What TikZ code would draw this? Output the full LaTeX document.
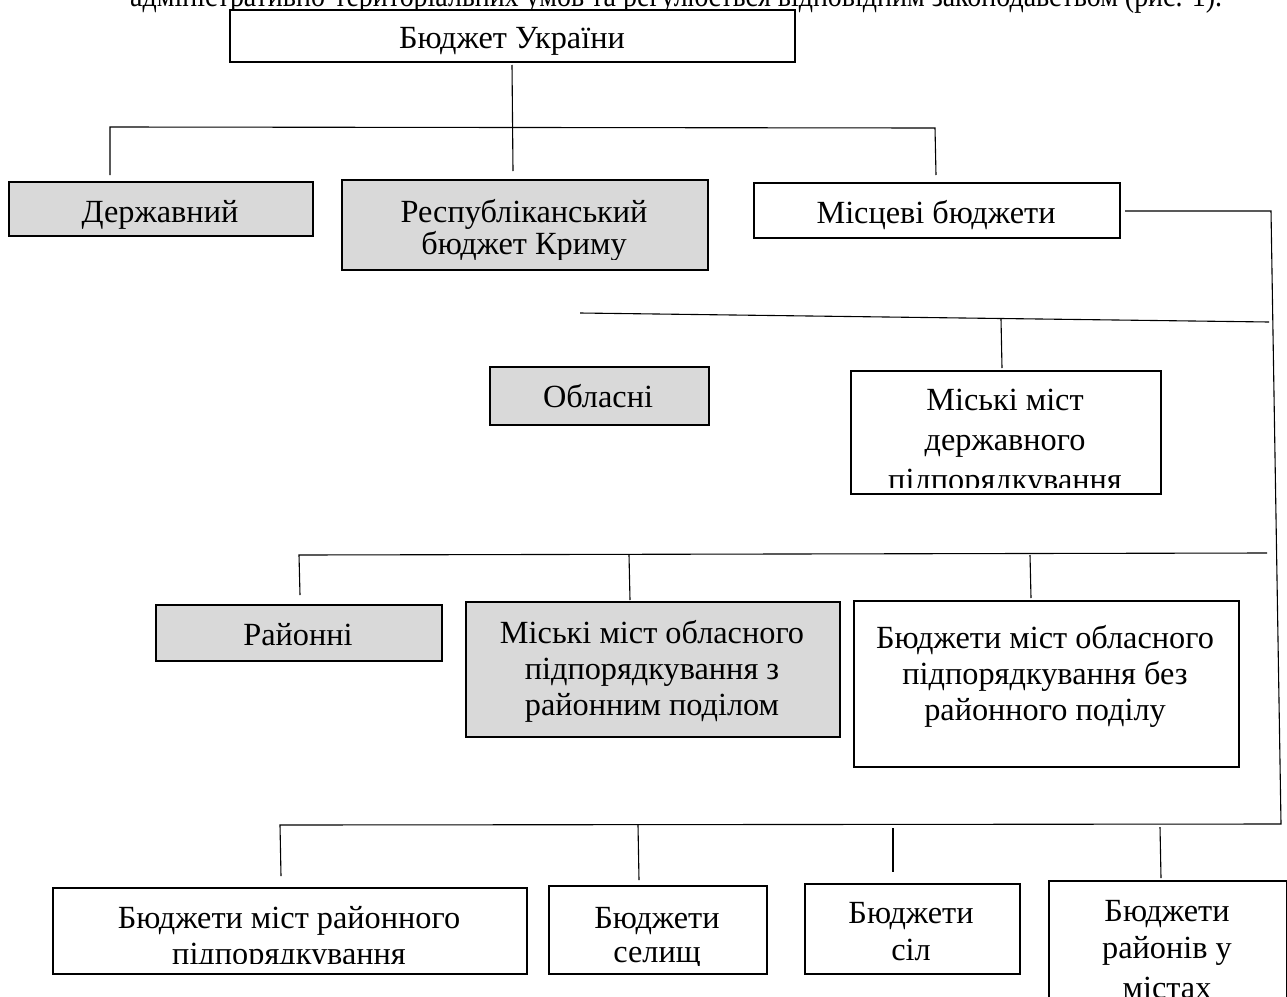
\documentclass[tikz,border=0pt]{standalone}
\usepackage{fontspec}
\usepackage{graphicx}
\setmainfont{Liberation Serif}
\definecolor{boxgray}{HTML}{D9D9D9}
\newcommand\fsz[1]{\fontsize{32.3}{#1}\selectfont}
\newcommand\lines[1]{\begin{tabular}[t]{@{}c@{}}#1\end{tabular}}
\tikzset{
  wbox/.style={draw=black, line width=2.2pt, fill=white, inner sep=0pt, anchor=north west},
  gbox/.style={wbox, fill=boxgray},
  txt/.style={inner sep=0pt, anchor=base, font=\fsz{36}},
  conn/.style={draw=black, line width=1.1pt}
}
\begin{document}
\begin{tikzpicture}[x=1pt,y=-1pt]
\useasboundingbox (0,0) rectangle (1287,996);
\fill[white] (0,0) rectangle (1287,996);
% intro text (clipped by page top)
\node[inner sep=0pt, anchor=base west, font=\fsz{36}] (intro) at (130,6)
  {\resizebox{1092pt}{\height}{адміністративно-територіальних умов та регулюється відповідним законодавством (рис. 1).}};
% boxes
\node[wbox, minimum width=565pt, minimum height=52pt] (top) at (229,9) {};
\node[txt] (topt) at (512,48) {Бюджет України};
\node[gbox, minimum width=304pt, minimum height=54pt] (derzh) at (8,181) {};
\node[txt] (derzht) at (160,222) {Державний};
\node[gbox, minimum width=366pt, minimum height=90pt] (resp) at (341,179) {};
\begin{scope}
\clip (resp.north west) rectangle ([yshift=12pt]resp.south east);
\node[txt, font=\fsz{32}] (respt) at (524,222) {\lines{Республіканський\\бюджет Криму}};
\end{scope}
\node[wbox, minimum width=366pt, minimum height=55pt] (misc) at (753,182) {};
\node[txt] (misct) at (936,223) {Місцеві бюджети};
\node[gbox, minimum width=219pt, minimum height=58pt] (obl) at (489,366) {};
\node[txt] (oblt) at (598,407) {Обласні};
\node[wbox, minimum width=310pt, minimum height=123pt] (mdp) at (850,370) {};
\begin{scope}
\clip (mdp.north west) rectangle ([yshift=8pt]mdp.south east);
\node[txt, font=\fsz{40}] (mdpt) at (1005,410) {\lines{Міські міст\\державного\\підпорядкування}};
\end{scope}
\node[gbox, minimum width=286pt, minimum height=56pt] (rai) at (155,604) {};
\node[txt] (rait) at (298,645) {Районні};
\node[gbox, minimum width=374pt, minimum height=135pt] (mop) at (465,601) {};
\node[txt, font=\fsz{36}] (mopt) at (652,643) {\lines{Міські міст обласного\\підпорядкування з\\районним поділом}};
\node[wbox, minimum width=385pt, minimum height=166pt] (bmo) at (853,600) {};
\node[txt, font=\fsz{36}] (bmot) at (1045,648) {\lines{Бюджети міст обласного\\підпорядкування без\\районного поділу}};
\node[wbox, minimum width=474pt, minimum height=86pt] (bmr) at (52,887) {};
\begin{scope}
\clip (bmr.north west) rectangle ([yshift=12pt]bmr.south east);
\node[txt, font=\fsz{36}] (bmrt) at (289,928) {\lines{Бюджети міст районного\\підпорядкування}};
\end{scope}
\node[wbox, minimum width=218pt, minimum height=88pt] (sel) at (548,885) {};
\begin{scope}
\clip (sel.north west) rectangle ([yshift=10pt]sel.south east);
\node[txt, font=\fsz{34}] (selt) at (657,928) {\lines{Бюджети\\селищ}};
\end{scope}
\node[wbox, minimum width=215pt, minimum height=90pt] (sil) at (804,883) {};
\node[txt, font=\fsz{37}] (silt) at (911,923) {\lines{Бюджети\\сіл}};
\node[wbox, minimum width=238pt, minimum height=130pt] (rvm) at (1048,880) {};
\node[txt, font=\fsz{37}] (rvmt) at (1167,921) {\lines{Бюджети\\районів у\\[3pt]містах}};
% connector coordinates
\coordinate (a1) at (512,65);  \coordinate (a2) at (513,171);
\coordinate (h1l) at (110,127); \coordinate (h1r) at (935,128);
\coordinate (d1) at (110,175); \coordinate (d3) at (936,175);
\coordinate (m1) at (1125,211); \coordinate (m2) at (1271,211); \coordinate (m3) at (1281,824);
\coordinate (h2l) at (580,313); \coordinate (h2r) at (1269,322);
\coordinate (v2a) at (1001,319); \coordinate (v2b) at (1002,368);
\coordinate (h3l) at (299,555); \coordinate (h3r) at (1267,553);
\coordinate (v3a) at (300,595); \coordinate (v3b) at (629,555); \coordinate (v3c) at (630,600);
\coordinate (v3d) at (1030,555); \coordinate (v3e) at (1031,598);
\coordinate (h4l) at (280,825);
\coordinate (v4a) at (281,876); \coordinate (v4b) at (638,825); \coordinate (v4c) at (639,880);
\coordinate (v4d) at (893,828); \coordinate (v4e) at (893,872);
\coordinate (v4f) at (1160,827); \coordinate (v4g) at (1161,878);
% connectors
\draw[conn] (a1) -- (a2);
\draw[conn] (d1) -- (h1l) -- (h1r) -- (d3);
\draw[conn] (m1) -- (m2) -- (m3) -- (h4l) -- (v4a);
\draw[conn] (h2l) -- (h2r);
\draw[conn] (v2a) -- (v2b);
\draw[conn] (v3a) -- (h3l) -- (h3r);
\draw[conn] (v3b) -- (v3c);
\draw[conn] (v3d) -- (v3e);
\draw[conn] (v4b) -- (v4c);
\draw[conn] (v4d) -- (v4e);
\draw[conn] (v4f) -- (v4g);
\end{tikzpicture}
\end{document}
